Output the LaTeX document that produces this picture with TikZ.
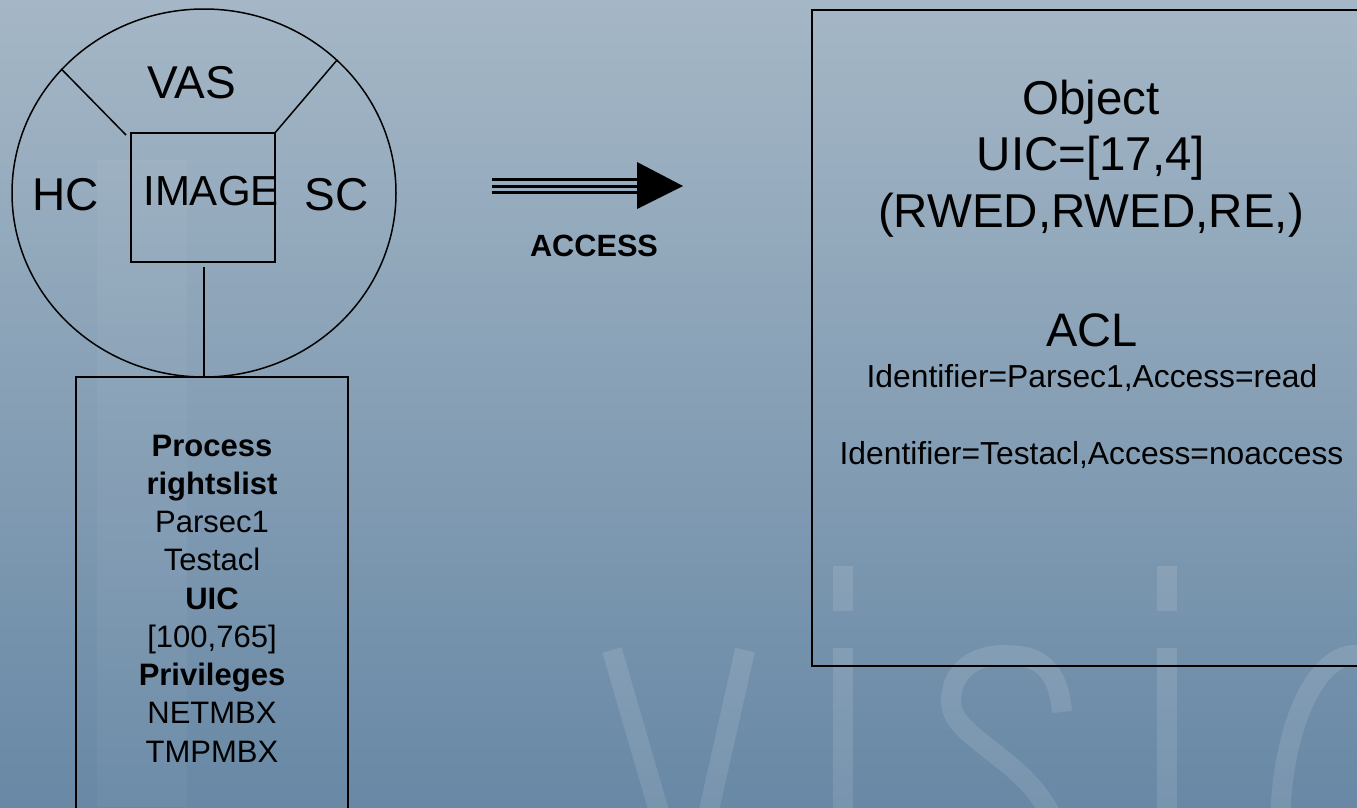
\documentclass[tikz,border=0pt]{standalone}
\usepackage{fontspec}
\setmainfont{Liberation Sans}
\usetikzlibrary{shapes.geometric}
\definecolor{bgtop}{RGB}{165,183,198}
\definecolor{bgmid}{RGB}{140,163,186}
\definecolor{bgbot}{RGB}{104,136,165}
\tikzset{
  box/.style={draw=black, line width=2pt, inner sep=0pt, fill=none},
  thinline/.style={draw=black, line width=1.5pt},
  wm/.style={draw=white, draw opacity=0.11, line width=20pt},
  bigtxt/.style={inner sep=0pt, anchor=base, font=\fontsize{46}{55}\selectfont},
  proctxt/.style={inner sep=0pt, anchor=base, font=\fontsize{31}{38.25}\selectfont},
  objtxt/.style={inner sep=0pt, anchor=base, font=\fontsize{47.5}{56.5}\selectfont},
  idtxt/.style={inner sep=0pt, anchor=base, font=\fontsize{31.8}{38}\selectfont},
  arrline/.style={draw=black, line width=3pt},
}
\begin{document}
\begin{tikzpicture}[x=1pt, y=-1pt]
\useasboundingbox (0,0) rectangle (1357,807);
\clip (0,0) rectangle (1357,807);
% background
\shade[top color=bgtop, middle color=bgmid, bottom color=bgbot] (0,0) rectangle (1357,807);
\fill[white, opacity=0.04] (97,160) rectangle (187,807);
% watermark "visio"
\draw[wm] (612,650) -- (687,908) -- (745,650);
\fill[white, opacity=0.11] (833,566) rectangle (853,611);
\draw[wm] (843,648) -- (843,820);
\draw[wm] (1062,712) .. controls (1058,662) and (1032,655) .. (1005,655)
          .. controls (972,655) and (951,672) .. (951,702)
          .. controls (951,745) and (1058,765) .. (1062,860);
\fill[white, opacity=0.11] (1157,566) rectangle (1177,611);
\draw[wm] (1167,648) -- (1167,820);
\draw[wm] (1280,830) arc[start angle=180, end angle=0, x radius=75, y radius=-175];
% left: process circle
\node[draw=black, line width=1.5pt, ellipse, minimum width=384pt, minimum height=368pt, inner sep=0pt] (vas) at (204,193) {};
\node[box, minimum width=144pt, minimum height=129pt] (img) at (203,197.5) {};
\draw[thinline] (vas.139) -- ([shift={(-4,3)}]img.north west);
\draw[thinline] (vas.45) -- ([shift={(-2,2)}]img.north east);
\node[bigtxt] (vast) at (191.5,98) {VAS};
\node[bigtxt] (hct) at (66,210) {HC};
\node[bigtxt] (sct) at (336.5,210) {SC};
\node[bigtxt, font=\fontsize{42}{50}\selectfont] (imgt) at (211,205) {IMAGE};
% process rights box
\node[box, minimum width=272pt, minimum height=463pt] (proc) at (212,608.5) {};
\draw[thinline] ([shift={(1,4)}]img.south) -- ([shift={(1,0)}]img.south |- proc.north);
\node[proctxt] (proct) at (212,456) {\begin{tabular}[t]{@{}c@{}}\textbf{Process}\\\textbf{rightslist}\\Parsec1\\Testacl\\\textbf{UIC}\\{[100,765]}\\\textbf{Privileges}\\NETMBX\\TMPMBX\end{tabular}};
% access arrow
\coordinate (as) at (492,186);
\coordinate (ae) at (637,186);
\draw[arrline] ([shift={(0,-6.5)}]as) -- ([shift={(0,-6.5)}]ae);
\draw[arrline] (as) -- (ae);
\draw[arrline] ([shift={(0,6.5)}]as) -- ([shift={(0,6.5)}]ae);
\fill[black] ([shift={(0,-24)}]ae) -- ([shift={(46,0)}]ae) -- ([shift={(0,23)}]ae) -- cycle;
\node[inner sep=0pt, anchor=base, font=\fontsize{30.7}{36}\selectfont\bfseries] (acc) at (594,256.5) {ACCESS};
% object box
\node[box, minimum width=588pt, minimum height=656pt] (obj) at (1106,338) {};
\node[objtxt] (objt) at (1091,114) {\begin{tabular}[t]{@{}c@{}}Object\\UIC=[17,4]\\(RWED,RWED,RE,)\end{tabular}};
\node[objtxt, font=\fontsize{47}{56}\selectfont] (acl) at (1092,346) {ACL};
\node[idtxt] (id1) at (1092,387) {Identifier=Parsec1,Access=read};
\node[idtxt] (id2) at (1091.5,464) {Identifier=Testacl,Access=noaccess};
\end{tikzpicture}
\end{document}
